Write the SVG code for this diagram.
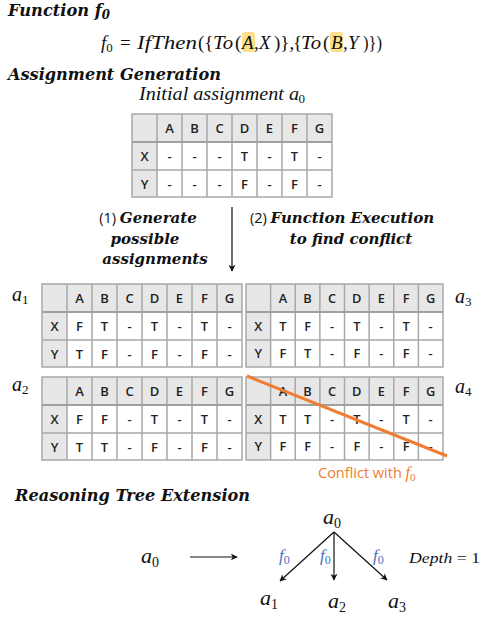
<svg xmlns="http://www.w3.org/2000/svg" xmlns:xlink="http://www.w3.org/1999/xlink" width="481" height="617" viewBox="0 0 481 617">
<style>
.title{font-family:"DejaVu Serif","Liberation Serif",serif;font-weight:bold;font-style:italic;font-size:16.5px;fill:#111}
.math{font-family:"Liberation Serif","DejaVu Serif",serif;font-style:italic;fill:#111}
.up{font-style:normal}
.sub{font-family:"Liberation Serif",serif;font-style:normal}
.cell{font-family:"Open Sans","Liberation Sans",sans-serif;font-weight:600;font-size:13px;fill:#222;text-anchor:middle}
.lbl{font-family:"Open Sans","Liberation Sans",sans-serif;font-size:14.5px;fill:#111}
.bi{font-family:"DejaVu Serif","Liberation Serif",serif;font-weight:bold;font-style:italic;font-size:15px;fill:#111}
.conn{stroke:#111;stroke-width:1.2;fill:none}
.blue{fill:#4472c4}
.fx{font-size:19px}
</style>
<defs>
<marker id="ah" viewBox="0 0 10 10" refX="9" refY="5" markerWidth="7" markerHeight="7" orient="auto" markerUnits="userSpaceOnUse">
<path d="M0,0 L10,5 L0,10 L3,5 Z" fill="#111"/>
</marker>
<g id="grid">
<rect x="0" y="0" width="200" height="83" fill="#fff"/>
<rect x="0" y="0" width="200" height="28" fill="#e7e7e7"/>
<rect x="0" y="0" width="25" height="83" fill="#e7e7e7"/>
<g stroke="#a8a8a8" stroke-width="1.5" fill="none">
<rect x="0" y="0" width="200" height="83"/>
<path d="M25,0V83M50,0V83M75,0V83M100,0V83M125,0V83M150,0V83M175,0V83M0,56H200"/>
</g>
<path d="M0,28H200" stroke="#a0a0a0" stroke-width="2.2"/>
<g class="cell">
<text x="37.5" y="19">A</text><text x="62.5" y="19">B</text><text x="87.5" y="19">C</text><text x="112.5" y="19">D</text><text x="137.5" y="19">E</text><text x="162.5" y="19">F</text><text x="187.5" y="19">G</text>
<text x="12.5" y="47">X</text><text x="12.5" y="74.5">Y</text>
</g>
</g>
</defs>

<g id="header">
<text class="title" x="8" y="16" textLength="102" lengthAdjust="spacingAndGlyphs">Function f<tspan font-size="12" dy="3">0</tspan></text>
</g>

<g id="formula">
<rect x="242" y="32" width="13" height="20" rx="3" fill="#ffe08a"/>
<rect x="330" y="32" width="13" height="20" rx="3" fill="#ffe08a"/>
<g class="math fx">
<text x="101" y="49">f<tspan class="sub" font-size="13" dy="3">0</tspan></text>
<text class="up" x="120" y="49">=</text>
<text x="137" y="49" textLength="60" lengthAdjust="spacingAndGlyphs">IfThen</text>
<text class="up" x="198" y="49">({</text>
<text x="213" y="49" textLength="20" lengthAdjust="spacingAndGlyphs">To</text>
<text class="up" x="235" y="49">(</text>
<text x="242" y="49">A</text>
<text class="up" x="254" y="49">,</text>
<text x="259" y="49">X</text>
<text class="up" x="274" y="49">)},</text>
<text class="up" x="293" y="49">{</text>
<text x="301" y="49" textLength="20" lengthAdjust="spacingAndGlyphs">To</text>
<text class="up" x="323" y="49">(</text>
<text x="331" y="49">B</text>
<text class="up" x="343" y="49">,</text>
<text x="348" y="49">Y</text>
<text class="up" x="363" y="49" textLength="19" lengthAdjust="spacingAndGlyphs">)})</text>
</g>
</g>

<g id="section-assign">
<text class="title" x="8" y="80" textLength="213" lengthAdjust="spacingAndGlyphs">Assignment Generation</text>
<text class="math" x="139" y="100" font-size="18.5" textLength="160" lengthAdjust="spacingAndGlyphs">Initial assignment a</text>
<text class="sub" x="298.5" y="103" font-size="13" fill="#111">0</text>
</g>

<g id="table-a0">
<use xlink:href="#grid" transform="translate(132,114)"/>
<g class="cell" transform="translate(132,114)">
<text x="37.5" y="47">-</text><text x="62.5" y="47">-</text><text x="87.5" y="47">-</text><text x="112.5" y="47">T</text><text x="137.5" y="47">-</text><text x="162.5" y="47">T</text><text x="187.5" y="47">-</text>
<text x="37.5" y="74.5">-</text><text x="62.5" y="74.5">-</text><text x="87.5" y="74.5">-</text><text x="112.5" y="74.5">F</text><text x="137.5" y="74.5">-</text><text x="162.5" y="74.5">F</text><text x="187.5" y="74.5">-</text>
</g>
</g>

<g id="connectors">
<line class="conn" x1="232" y1="207" x2="232" y2="271" marker-end="url(#ah)"/>
<line class="conn" x1="190" y1="557" x2="237" y2="557" marker-end="url(#ah)"/>
<line class="conn" x1="334" y1="532" x2="280" y2="581" marker-end="url(#ah)"/>
<line class="conn" x1="334" y1="532" x2="334" y2="580" marker-end="url(#ah)"/>
<line class="conn" x1="334" y1="532" x2="387" y2="580" marker-end="url(#ah)"/>
</g>

<g id="step1">
<text x="148" y="223" text-anchor="middle"><tspan class="lbl">(1) </tspan><tspan class="bi">Generate</tspan></text>
<text class="bi" x="145" y="244" text-anchor="middle">possible</text>
<text class="bi" x="155" y="264" text-anchor="middle">assignments</text>
</g>

<g id="step2">
<text x="342" y="223" text-anchor="middle"><tspan class="lbl">(2) </tspan><tspan class="bi">Function Execution</tspan></text>
<text class="bi" x="351" y="244" text-anchor="middle">to find conflict</text>
</g>

<g id="table-a1">
<text class="math" x="12" y="301" font-size="20">a<tspan class="sub" font-size="13" dy="3">1</tspan></text>
<use xlink:href="#grid" transform="translate(42,284)"/>
<g class="cell" transform="translate(42,284)">
<text x="37.5" y="47">F</text><text x="62.5" y="47">T</text><text x="87.5" y="47">-</text><text x="112.5" y="47">T</text><text x="137.5" y="47">-</text><text x="162.5" y="47">T</text><text x="187.5" y="47">-</text>
<text x="37.5" y="74.5">T</text><text x="62.5" y="74.5">F</text><text x="87.5" y="74.5">-</text><text x="112.5" y="74.5">F</text><text x="137.5" y="74.5">-</text><text x="162.5" y="74.5">F</text><text x="187.5" y="74.5">-</text>
</g>
</g>

<g id="table-a3">
<text class="math" x="455" y="303" font-size="20">a<tspan class="sub" font-size="13" dy="3">3</tspan></text>
<use xlink:href="#grid" transform="translate(246,284) scale(0.985,1)"/>
<g class="cell" transform="translate(246,284) scale(0.985,1)">
<text x="37.5" y="47">T</text><text x="62.5" y="47">F</text><text x="87.5" y="47">-</text><text x="112.5" y="47">T</text><text x="137.5" y="47">-</text><text x="162.5" y="47">T</text><text x="187.5" y="47">-</text>
<text x="37.5" y="74.5">F</text><text x="62.5" y="74.5">T</text><text x="87.5" y="74.5">-</text><text x="112.5" y="74.5">F</text><text x="137.5" y="74.5">-</text><text x="162.5" y="74.5">F</text><text x="187.5" y="74.5">-</text>
</g>
</g>

<g id="table-a2">
<text class="math" x="12" y="391" font-size="20">a<tspan class="sub" font-size="13" dy="3">2</tspan></text>
<use xlink:href="#grid" transform="translate(42,377)"/>
<g class="cell" transform="translate(42,377)">
<text x="37.5" y="47">F</text><text x="62.5" y="47">F</text><text x="87.5" y="47">-</text><text x="112.5" y="47">T</text><text x="137.5" y="47">-</text><text x="162.5" y="47">T</text><text x="187.5" y="47">-</text>
<text x="37.5" y="74.5">T</text><text x="62.5" y="74.5">T</text><text x="87.5" y="74.5">-</text><text x="112.5" y="74.5">F</text><text x="137.5" y="74.5">-</text><text x="162.5" y="74.5">F</text><text x="187.5" y="74.5">-</text>
</g>
</g>

<g id="table-a4">
<text class="math" x="455" y="393" font-size="20">a<tspan class="sub" font-size="13" dy="3">4</tspan></text>
<use xlink:href="#grid" transform="translate(246,377) scale(0.985,1)"/>
<g class="cell" transform="translate(246,377) scale(0.985,1)">
<text x="37.5" y="47">T</text><text x="62.5" y="47">T</text><text x="87.5" y="47">-</text><text x="112.5" y="47">T</text><text x="137.5" y="47">-</text><text x="162.5" y="47">T</text><text x="187.5" y="47">-</text>
<text x="37.5" y="74.5">F</text><text x="62.5" y="74.5">F</text><text x="87.5" y="74.5">-</text><text x="112.5" y="74.5">F</text><text x="137.5" y="74.5">-</text><text x="162.5" y="74.5">F</text><text x="187.5" y="74.5">-</text>
</g>
<line x1="247" y1="376" x2="447" y2="456" stroke="#ef7d32" stroke-width="3"/>
<text x="318" y="478" font-family="'Open Sans','Liberation Sans',sans-serif" font-size="14.5" fill="#ef7d32">Conflict with <tspan font-family="'Liberation Serif',serif" font-style="italic" font-size="16">f</tspan><tspan font-family="'Liberation Serif',serif" font-size="11" dy="3">0</tspan></text>
</g>

<g id="section-tree">
<text class="title" x="15" y="501" textLength="235" lengthAdjust="spacingAndGlyphs">Reasoning Tree Extension</text>
</g>

<g id="tree-a0-left"><text class="math" x="141" y="563" font-size="22">a<tspan class="sub" font-size="14" dy="4">0</tspan></text></g>
<g id="tree-a0-root"><text class="math" x="323" y="524" font-size="22">a<tspan class="sub" font-size="14" dy="4">0</tspan></text></g>
<g id="tree-a1"><text class="math" x="260" y="605" font-size="22">a<tspan class="sub" font-size="14" dy="4">1</tspan></text></g>
<g id="tree-a2"><text class="math" x="328" y="608" font-size="22">a<tspan class="sub" font-size="14" dy="4">2</tspan></text></g>
<g id="tree-a3"><text class="math" x="388" y="608" font-size="22">a<tspan class="sub" font-size="14" dy="4">3</tspan></text></g>
<g id="edge-labels">
<text class="math blue" x="279" y="561" font-size="17">f<tspan class="sub" font-size="12" dy="3">0</tspan></text>
<text class="math blue" x="320" y="561" font-size="17">f<tspan class="sub" font-size="12" dy="3">0</tspan></text>
<text class="math blue" x="373" y="561" font-size="17">f<tspan class="sub" font-size="12" dy="3">0</tspan></text>
</g>
<g id="depth"><text class="math" x="409" y="563" font-size="15.5" textLength="71" lengthAdjust="spacingAndGlyphs">Depth <tspan font-style="normal">= 1</tspan></text></g>
</svg>
